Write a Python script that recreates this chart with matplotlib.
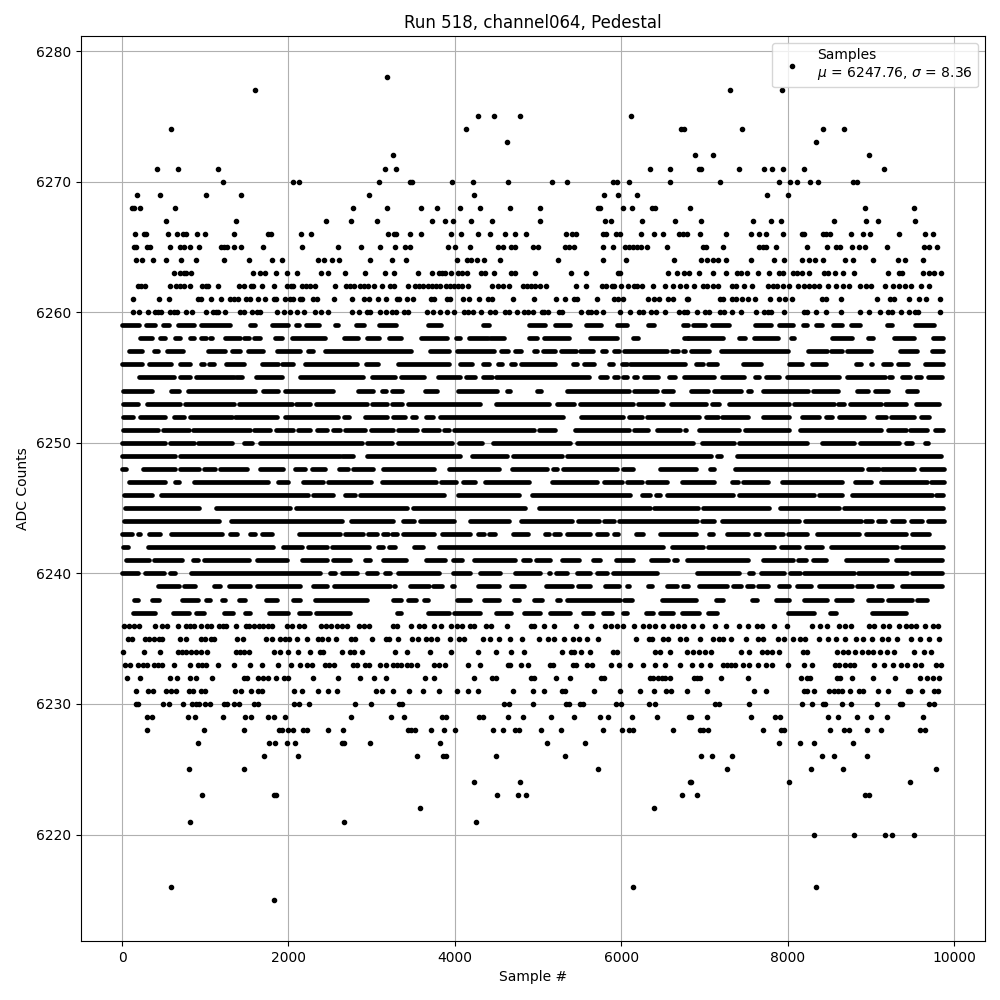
import matplotlib
matplotlib.use("Agg")
import matplotlib.pyplot as plt

# Single samples, one list per ADC level
s_6278 = [3188]
s_6277 = [1592, 7304, 7928]
s_6275 = [4276, 4468, 4780, 6124]
s_6274 = [584, 4132, 6724, 6760, 7448, 8432, 8684]
s_6273 = [4624, 8348]
s_6272 = [3260, 6884, 7100, 8984]
s_6271 = [416, 668, 1148, 3164, 3296, 6352, 6592, 6932, 6956, 7412, 7712, 7808, 7940, 8204, 9164]
s_6270 = [1208, 2060, 2132, 3092, 3460, 3484, 3964, 4216, 4636, 5164, 5344, 5896, 5944, 6100, 6592, 7184, 7892, 8024, 8108, 8276, 8372, 8792, 8840]
s_6269 = [176, 452, 1004, 1424, 2972, 4228, 5788, 5956, 6196, 7748, 8000]
s_6268 = [120, 140, 212, 632, 2780, 3188, 3592, 3784, 4060, 4300, 4660, 5020, 5716, 5740, 6016, 6136, 6376, 6412, 6828, 8936, 9524]
s_6267 = [524, 1364, 2456, 2756, 3068, 3724, 3880, 3976, 4192, 4444, 5020, 5800, 5872, 6256, 6652, 6956, 7580, 7796, 7916, 8564, 8948, 9092, 9536]
s_6266 = [152, 260, 284, 548, 656, 728, 764, 896, 992, 1340, 1760, 1796, 2156, 2276, 3200, 3272, 3296, 3460, 3592, 3952, 4072, 4276, 4420, 4600, 4720, 4852, 5332, 5404, 5452, 5776, 5812, 5932, 5980, 6244, 6400, 6508, 6700, 6748, 6796, 6944, 7256, 7556, 7652, 7736, 7940, 8168, 8192, 8432, 8468, 8516, 8768, 8912, 8996, 9344, 9656, 9752]
s_6265 = [140, 164, 296, 332, 572, 692, 740, 812, 920, 1184, 1220, 1256, 1340, 1424, 1700, 2168, 2600, 2876, 3104, 3284, 3400, 3460, 3916, 4000, 4180, 4516, 4576, 4672, 4720, 4936, 4996, 5320, 5368, 5428, 5776, 5896, 6052, 6100, 6148, 6196, 6244, 6316, 6556, 6980, 7016, 7220, 7652, 7700, 7736, 7856, 8240, 8480, 8588, 8636, 8780, 8864, 8936, 9200, 9644, 9704, 9800]
s_6264 = [164, 236, 368, 524, 704, 884, 1220, 1520, 1808, 1928, 2360, 2432, 2528, 2612, 2984, 3248, 3412, 4024, 4144, 4192, 4264, 4348, 4540, 5236, 5776, 6064, 6640, 6956, 7028, 7100, 7160, 7256, 7556, 7832, 7952, 8168, 8264, 8336, 8432, 8696, 8792, 9032, 9332, 9416, 9632]
s_6263 = [620, 692, 740, 764, 824, 1568, 1652, 1724, 1856, 1988, 2108, 2396, 2480, 2684, 2924, 3164, 3272, 3556, 3724, 3808, 3844, 3880, 3952, 4036, 4084, 4144, 4312, 4360, 4468, 4672, 4720, 4960, 5392, 5572, 5956, 5980, 6568, 6676, 6760, 6812, 6932, 7100, 7256, 7388, 7436, 7508, 7640, 7772, 7892, 7940, 8060, 8108, 8168, 8264, 8444, 8492, 8576, 8672, 8804, 9212, 9344, 9380, 9632, 9704, 9764, 9848]
s_6262 = [188, 224, 272, 572, 644, 692, 740, 812, 956, 1004, 1028, 1148, 1400, 1460, 1544, 1568, 1688, 1832, 1988, 2036, 2060, 2168, 2216, 2264, 2324, 2564, 2696, 2744, 2792, 2864, 2912, 2960, 3032, 3124, 3224, 3272, 3436, 3520, 3568, 3616, 3676, 3724, 3772, 3820, 3892, 3940, 3988, 4036, 4084, 4156, 4444, 4516, 4576, 4648, 4816, 4864, 4912, 4960, 5020, 5092, 5452, 5572, 5764, 5812, 5884, 5908, 5992, 6088, 6160, 6196, 6256, 6388, 6532, 6628, 6712, 6784, 6880, 6980, 7028, 7100, 7160, 7328, 7376, 7472, 7568, 7760, 7820, 7868, 7940, 8012, 8120, 8204, 8264, 8324, 8384, 8492, 8588, 8672, 8744, 8876, 8948, 9008, 9176, 9272, 9344, 9416, 9488, 9608, 9704]
s_6261 = [128, 440, 560, 908, 944, 1064, 1184, 1292, 1340, 1388, 1484, 1532, 1628, 1724, 1832, 1856, 1964, 2024, 2060, 2144, 2168, 2300, 2348, 2552, 2768, 2912, 2972, 3080, 3176, 3308, 3328, 3424, 3496, 3712, 3748, 3904, 3940, 4096, 4168, 4288, 4396, 4444, 4696, 4948, 5212, 5320, 5428, 5464, 5704, 5908, 5956, 6028, 6328, 6400, 6460, 6568, 6628, 6796, 6800, 7184, 7220, 7328, 7376, 7448, 7520, 7604, 7784, 7892, 7964, 8048, 8420, 8468, 8648, 9080, 9236, 9284, 9464, 9584, 9668, 9836]
s_6260 = [128, 200, 308, 392, 428, 464, 572, 620, 656, 764, 836, 1004, 1088, 1124, 1148, 1232, 1412, 1460, 1556, 1616, 1652, 1868, 1952, 2024, 2108, 2192, 2324, 2396, 2480, 2768, 2852, 2948, 2984, 3104, 3176, 3248, 3296, 3388, 3436, 3664, 3736, 3820, 3904, 3988, 4108, 4156, 4216, 4312, 4420, 4480, 4600, 4648, 4744, 4828, 4876, 4936, 5044, 5068, 5116, 5248, 5284, 5512, 5596, 5632, 5692, 5776, 5980, 6112, 6220, 6268, 6364, 6424, 6532, 6700, 6760, 6796, 6908, 7004, 7052, 7184, 7232, 7328, 7436, 7616, 7712, 7760, 7796, 7952, 8192, 8240, 8348, 8468, 8648, 8876, 8984, 9116, 9212, 9260, 9368, 9464, 9536, 9572, 9836]
s_6236 = [20, 80, 140, 200, 392, 476, 536, 668, 764, 812, 860, 944, 1016, 1064, 1160, 1208, 1244, 1364, 1484, 1520, 1580, 1640, 1700, 1760, 1808, 1988, 2048, 2132, 2192, 2396, 2456, 2516, 2588, 2648, 2708, 2852, 2912, 2972, 3260, 3308, 3472, 3568, 3628, 3748, 3832, 3952, 4024, 4084, 4180, 4228, 4372, 4432, 4624, 4912, 4948, 5068, 5188, 5452, 5632, 5800, 5872, 5944, 6028, 6160, 6268, 6340, 6412, 6508, 6616, 6688, 6760, 6860, 6968, 7124, 7256, 7412, 7520, 7628, 7688, 7832, 7988, 8300, 8396, 8480, 8624, 8696, 8768, 8984, 9044, 9152, 9224, 9344, 9428, 9488, 9548, 9656, 9752, 9812]
s_6235 = [68, 116, 272, 320, 380, 440, 476, 692, 764, 944, 992, 1064, 1100, 1376, 1448, 1736, 1808, 1904, 1964, 2012, 2108, 2228, 2360, 2408, 2480, 2576, 2756, 2804, 3008, 3176, 3212, 3320, 3484, 3556, 3652, 3712, 3784, 3940, 4048, 4108, 4336, 4420, 4528, 4660, 4804, 5008, 5116, 5188, 5308, 5416, 5488, 5584, 5716, 6184, 6340, 6376, 6508, 6568, 6712, 6784, 6944, 7100, 7172, 7220, 7316, 7496, 7640, 7700, 7880, 7952, 8060, 8144, 8216, 8384, 8492, 8588, 8696, 8828, 8912, 9020, 9140, 9212, 9320, 9488, 9596, 9704, 9824]
s_6234 = [8, 260, 452, 668, 716, 764, 824, 884, 944, 1016, 1364, 1412, 1460, 1520, 1832, 1904, 2000, 2120, 2264, 2384, 2420, 2648, 2744, 2792, 2888, 3284, 3424, 3700, 3952, 4276, 4492, 4672, 4828, 5284, 5392, 5428, 5512, 5620, 5896, 5944, 6412, 6472, 6592, 6796, 6860, 6932, 7004, 7076, 7436, 7532, 7688, 7748, 7808, 7892, 8180, 8240, 8600, 8672, 8732, 8816, 8900, 8972, 9032, 9116, 9200, 9284, 9524, 9644, 9728]
s_6233 = [32, 92, 188, 248, 296, 380, 428, 476, 620, 812, 908, 956, 1004, 1148, 1340, 1532, 1688, 1880, 2036, 2144, 2228, 2288, 2444, 2492, 2552, 2780, 2828, 2924, 2972, 3104, 3176, 3260, 3308, 3352, 3424, 3472, 3544, 3748, 3808, 3880, 4156, 4300, 4636, 4660, 4792, 4876, 5140, 5176, 5416, 5452, 5584, 5644, 5872, 5968, 6112, 6268, 6412, 6532, 6712, 6848, 6956, 7064, 7220, 7268, 7316, 7364, 7460, 7532, 7640, 7736, 7808, 8000, 8192, 8300, 8576, 8624, 8696, 8756, 8804, 9044, 9164, 9272, 9368, 9440, 9536, 9608, 9788, 9848]
s_6232 = [56, 212, 572, 656, 812, 884, 1076, 1460, 1496, 1628, 1700, 1760, 1856, 1952, 2000, 2300, 2600, 2864, 3032, 3176, 3640, 3748, 4228, 4444, 4492, 4912, 4948, 5212, 5380, 5752, 5788, 6352, 6388, 6448, 6496, 6532, 6592, 6872, 6908, 6944, 7196, 7520, 8156, 8240, 8276, 8600, 8636, 8780, 9032, 9296, 9596, 9680, 9752, 9824]
s_6231 = [164, 308, 368, 524, 584, 644, 800, 848, 944, 992, 1352, 1424, 1544, 1628, 1688, 2072, 2168, 2360, 2480, 2588, 3056, 3128, 3260, 3448, 3616, 3808, 4024, 4156, 4276, 4696, 4936, 5068, 5284, 5320, 5668, 5980, 6232, 6400, 6544, 6604, 6796, 7028, 7592, 7736, 8204, 8240, 8324, 8504, 8564, 8612, 8660, 8756, 8864, 8912, 9092, 9212, 9452, 9476, 9620, 9764, 9812]
s_6230 = [164, 188, 488, 560, 728, 836, 884, 920, 992, 1052, 1220, 1256, 1340, 1400, 1580, 1628, 2072, 2132, 2252, 2804, 2996, 3332, 3364, 4588, 4648, 4936, 5332, 5368, 5500, 5536, 5932, 5992, 6340, 6412, 7124, 7172, 7532, 8168, 8300, 8432, 8456, 8660, 8768, 9080, 9356, 9380, 9704, 9764]
s_6229 = [296, 356, 788, 872, 1208, 1472, 1544, 1760, 1832, 1964, 2756, 3236, 3388, 3844, 3892, 4288, 4336, 4636, 4816, 5152, 5428, 5740, 5836, 6136, 6436, 6820, 6836, 7028, 7556, 7844, 7904, 8492, 8612, 8840, 9008, 9200, 9632]
s_6228 = [296, 980, 1460, 1892, 1928, 2000, 2060, 2180, 2228, 2480, 2660, 3436, 3472, 3520, 3712, 3868, 4000, 4456, 4576, 4720, 4768, 5032, 5272, 5776, 6004, 6100, 6148, 6628, 6944, 6980, 7040, 7700, 7916, 7952, 8516, 8684, 8744, 8960, 9128, 9596, 9656]
s_6227 = [908, 1772, 1844, 1988, 2084, 2648, 2672, 2984, 3820, 5104, 5560, 7892, 8144, 8324, 8792]
s_6226 = [1712, 2120, 3544, 3856, 3892, 4492, 5320, 6956, 7088, 7328, 8420, 8564, 8960]
s_6225 = [800, 1460, 5716, 7268, 8288, 8672, 9788]
s_6224 = [4228, 4780, 6828, 6836, 8012, 9476]
s_6223 = [956, 1832, 1856, 4504, 4756, 4852, 6736, 6908, 8936, 8984]
s_6222 = [3580, 6400]
s_6221 = [812, 2672, 4252]
s_6220 = [8324, 8804, 9176, 9260, 9524]
s_6216 = [584, 6148, 8348]
s_6215 = [1832]

# Rows too dense to tell samples apart: (first, last) of each merged stretch
r_6259 = [(0, 200), (288, 392), (488, 560), (672, 864), (948, 1292), (1536, 1600), (1688, 1688), (1808, 2000), (2096, 2128), (2208, 2372), (2556, 2592), (2816, 2904), (3088, 3292), (3428, 3428), (3676, 3832), (3916, 3916), (4012, 4012), (4120, 4120), (4340, 4408), (4756, 4756), (4888, 5080), (5208, 5380), (5572, 5752), (5944, 6076), (6196, 6196), (6328, 6400), (6568, 6568), (6748, 6808), (6860, 7012), (7088, 7292), (7364, 7364), (7520, 7520), (7604, 7796), (7892, 8060), (8108, 8108), (8180, 8240), (8348, 8412), (8552, 8660), (8768, 8876), (8996, 8996), (9092, 9092), (9200, 9260), (9404, 9404), (9536, 9764)]
r_6258 = [(220, 360), (460, 520), (640, 692), (812, 860), (948, 1004), (1052, 1080), (1160, 1160), (1240, 1420), (1460, 1520), (1580, 1652), (1836, 1924), (2048, 2444), (2588, 2588), (2672, 2840), (2948, 3092), (3212, 3348), (3460, 3460), (3588, 3908), (4012, 4060), (4168, 4396), (4420, 4588), (4684, 4684), (4768, 4768), (4888, 4988), (5068, 5368), (5416, 5416), (5512, 5512), (5620, 5948), (6148, 6208), (6652, 6652), (6760, 6808), (6800, 7220), (7292, 7292), (7412, 7484), (7592, 7880), (8040, 8080), (8188, 8188), (8348, 8348), (8444, 8444), (8540, 8780), (8972, 9032), (9284, 9524), (9752, 9872)]
r_6257 = [(80, 240), (380, 428), (540, 728), (776, 776), (904, 904), (1028, 1240), (1316, 1420), (1508, 1700), (1760, 1760), (1868, 2140), (2240, 2300), (2440, 3476), (3604, 3604), (3700, 3928), (4024, 4468), (4556, 4636), (4720, 4796), (4948, 4988), (5056, 5208), (5272, 5452), (5500, 5656), (5764, 5812), (5908, 5968), (6040, 6548), (6608, 6688), (6748, 6768), (6836, 7060), (7112, 7112), (7196, 8000), (8072, 8072), (8156, 8156), (8252, 8480), (8528, 8660), (8720, 9000), (9140, 9140), (9356, 9560), (9740, 9872)]
r_6256 = [(0, 240), (320, 588), (700, 812), (884, 884), (944, 980), (1040, 1100), (1244, 1460), (1556, 1556), (1688, 1880), (1928, 2060), (2204, 2820), (2932, 3080), (3132, 3132), (3240, 3240), (3320, 3928), (4060, 4208), (4336, 4408), (4432, 4432), (4516, 4568), (4676, 4728), (4792, 5208), (5272, 5272), (5416, 5468), (5548, 5668), (5848, 5896), (6012, 6076), (6108, 6768), (6896, 6980), (7048, 7148), (7232, 7232), (7352, 7352), (7460, 7680), (7892, 7892), (8012, 8168), (8216, 8216), (8300, 8460), (8516, 8516), (8828, 8888), (9008, 9016), (9152, 9248), (9332, 9452), (9656, 9872)]
r_6255 = [(32, 32), (200, 620), (692, 812), (884, 1340), (1372, 1440), (1604, 1920), (2140, 2900), (3008, 3280), (3348, 3628), (3796, 4060), (4132, 4248), (4336, 4448), (4492, 5608), (5740, 5828), (5908, 5956), (6016, 6076), (6160, 6196), (6280, 6448), (6572, 6652), (6760, 7120), (7208, 7480), (7604, 7660), (7736, 7900), (7988, 8620), (8720, 9172), (9224, 9260), (9380, 9468), (9548, 9608), (9692, 9860)]
r_6254 = [(8, 360), (500, 500), (588, 680), (788, 1600), (1700, 1880), (1964, 2540), (2648, 2648), (2744, 2744), (2840, 3020), (3120, 3172), (3248, 3368), (3532, 3532), (3640, 3788), (3856, 3856), (4036, 4508), (4624, 4660), (4768, 4768), (4888, 4888), (4988, 5036), (5176, 5176), (5260, 5260), (5344, 6100), (6160, 6428), (6508, 6628), (6736, 6736), (6836, 7040), (7112, 7436), (7520, 7556), (7628, 7628), (7700, 8252), (8312, 8612), (8840, 8972), (9056, 9212), (9356, 9356), (9440, 9560), (9620, 9620), (9716, 9716), (9800, 9800)]
r_6253 = [(8, 188), (296, 692), (752, 1340), (1400, 2040), (2096, 2260), (2336, 2940), (3008, 3180), (3248, 3368), (3436, 4308), (4420, 4420), (4492, 5128), (5228, 5428), (5500, 6148), (6208, 6508), (6604, 7020), (7088, 7180), (7232, 7232), (7292, 8020), (8072, 8560), (8612, 8680), (8756, 9120), (9176, 9428), (9548, 9820)]
r_6252 = [(8, 128), (212, 520), (620, 740), (812, 1320), (1360, 1860), (1904, 1904), (1964, 2600), (2672, 2732), (2852, 2852), (2924, 3180), (3260, 3396), (3484, 3532), (3652, 3740), (3820, 5300), (5368, 5368), (5516, 6020), (6100, 6248), (6316, 6932), (7016, 7160), (7208, 7520), (7628, 7628), (7700, 8020), (8084, 8084), (8168, 8380), (8468, 8540), (8624, 8920), (9008, 9008), (9080, 9180), (9248, 9524), (9608, 9700)]
r_6251 = [(8, 428), (488, 800), (848, 1540), (1580, 1780), (1848, 2060), (2120, 2260), (2340, 2460), (2540, 2620), (2680, 2920), (2988, 3260), (3312, 3548), (3616, 3808), (3868, 3928), (3988, 4948), (5008, 5208), (5308, 5308), (5440, 6100), (6160, 6328), (6428, 6708), (6764, 6784), (6872, 6872), (6932, 7412), (7484, 8012), (8060, 8060), (8144, 9128), (9212, 9420), (9476, 9680), (9776, 9872)]
r_6250 = [(0, 520), (572, 860), (908, 1320), (1460, 1560), (1660, 2880), (2940, 3240), (3316, 3968), (4048, 4328), (4456, 5388), (5464, 6860), (6968, 7360), (7412, 8240), (8336, 8336), (8420, 8800), (8876, 9340), (9428, 9500), (9548, 9548), (9652, 9692), (9764, 9764), (9848, 9848)]
r_6249 = [(0, 640), (700, 2620), (2648, 2780), (2940, 4068), (4132, 4132), (4204, 4628), (4696, 5288), (5344, 7080), (7148, 7200), (7304, 7304), (7388, 9840)]
r_6248 = [(0, 52), (248, 640), (692, 920), (980, 1120), (1172, 1500), (1580, 1580), (1652, 1940), (2012, 2012), (2084, 2200), (2288, 2440), (2540, 2540), (2612, 2720), (2780, 3020), (3056, 3056), (3140, 3748), (3856, 3856), (3928, 4528), (4600, 4600), (4684, 5108), (5176, 5228), (5296, 5948), (6016, 6148), (6220, 6220), (6292, 6292), (6388, 6388), (6472, 6900), (7068, 7112), (7220, 7220), (7364, 8900), (8972, 9100), (9140, 9520), (9608, 9880)]
r_6247 = [(80, 520), (640, 680), (740, 740), (860, 1760), (1784, 1784), (1880, 2000), (2084, 2084), (2180, 2420), (2480, 2988), (3120, 3768), (3828, 4016), (4096, 4248), (4360, 4888), (4996, 4996), (5080, 5080), (5164, 5708), (5788, 6008), (6076, 6248), (6316, 6548), (6628, 6628), (6728, 7120), (7208, 7208), (7328, 7400), (7460, 7760), (7828, 7828), (7928, 8652), (8732, 8732), (8816, 9000), (9128, 9680), (9728, 9880)]
r_6246 = [(20, 360), (464, 2240), (2300, 2540), (2680, 2800), (2864, 3868), (3964, 3964), (4036, 4768), (4840, 4840), (4924, 6108), (6160, 6160), (6256, 6348), (6424, 6468), (6556, 7340), (7412, 8320), (8384, 8660), (8780, 9740), (9788, 9872)]
r_6245 = [(32, 920), (1040, 1040), (1132, 2020), (2092, 3428), (3496, 4848), (4888, 4888), (5016, 6348), (6400, 6920), (6980, 7780), (7904, 8620), (8680, 9872)]
r_6244 = [(20, 1160), (1208, 1208), (1304, 2640), (2756, 3260), (3376, 3508), (3580, 3996), (4072, 4072), (4180, 4648), (4792, 5408), (5476, 5728), (5788, 5908), (5968, 6908), (6968, 7112), (7208, 8140), (8216, 8880), (8936, 9020), (9092, 9172), (9260, 9400), (9488, 9620), (9692, 9880)]
r_6243 = [(0, 120), (188, 220), (320, 460), (588, 1200), (1300, 1380), (1532, 1600), (1676, 1800), (1892, 1892), (2000, 2000), (2132, 2620), (2680, 2900), (2960, 3068), (3140, 3200), (3248, 3300), (3376, 3748), (3844, 4180), (4276, 4348), (4408, 4480), (4552, 4552), (4696, 4876), (4936, 4936), (5080, 5128), (5188, 5268), (5344, 5628), (5704, 5828), (5908, 5956), (6064, 6064), (6184, 6268), (6328, 6328), (6472, 6900), (6956, 6956), (7052, 7100), (7184, 7184), (7268, 7520), (7604, 7652), (7736, 7940), (8000, 8240), (8288, 8288), (8360, 8860), (8948, 9420), (9500, 9700)]
r_6242 = [(8, 68), (128, 128), (224, 224), (308, 1820), (1940, 2160), (2240, 2460), (2528, 2972), (3080, 3140), (3212, 3280), (3352, 3352), (3424, 3424), (3508, 3616), (3712, 3712), (3808, 6508), (6616, 6980), (7040, 7840), (7916, 8132), (8228, 8420), (8528, 9320), (9380, 9872)]
r_6241 = [(44, 320), (380, 716), (848, 908), (980, 1520), (1620, 1980), (2168, 2460), (2540, 2740), (2924, 2980), (3068, 3068), (3140, 3408), (3496, 3496), (3652, 3888), (3976, 4088), (4228, 4728), (4816, 4908), (4972, 5148), (5284, 5488), (5656, 5740), (5860, 5860), (5932, 6148), (6256, 6256), (6364, 6568), (6640, 6676), (6788, 7520), (7580, 7580), (7700, 8060), (8120, 8220), (8312, 8460), (8504, 8504), (8708, 9200), (9308, 9860)]
r_6240 = [(0, 188), (272, 500), (572, 640), (740, 740), (824, 2380), (2500, 2560), (2648, 2820), (2876, 2876), (2948, 3060), (3164, 3220), (3320, 3808), (3892, 3892), (3976, 4188), (4308, 4548), (4636, 4636), (4720, 5028), (5128, 5148), (5212, 5348), (5464, 5628), (5704, 5828), (5896, 6428), (6508, 6508), (6628, 6628), (6752, 6760), (6908, 7420), (7532, 7580), (7676, 7960), (8024, 8148), (8204, 8800), (8852, 9440), (9500, 9860)]
r_6239 = [(116, 116), (272, 272), (428, 680), (740, 880), (968, 968), (1100, 1172), (1280, 1540), (1620, 2140), (2300, 2460), (2552, 3220), (3272, 3280), (3460, 3688), (3736, 3848), (3964, 3988), (4060, 4060), (4156, 4156), (4276, 4528), (4672, 4828), (4876, 4876), (4960, 4960), (5092, 5408), (5476, 5628), (5692, 5692), (5800, 5968), (6076, 6100), (6328, 6368), (6460, 6460), (6556, 6668), (6748, 6808), (6940, 7268), (7340, 7436), (7508, 7580), (7640, 7760), (7892, 8012), (8108, 8280), (8384, 8780), (8840, 9020), (9092, 9260), (9380, 9860)]
r_6238 = [(20, 20), (140, 188), (356, 440), (596, 596), (716, 908), (1004, 1060), (1196, 1240), (1328, 1328), (1400, 1480), (1556, 1556), (1736, 1860), (2060, 2140), (2324, 2940), (3020, 3020), (3152, 3152), (3260, 3348), (3436, 3528), (3628, 3676), (3916, 3916), (4024, 4180), (4264, 4264), (4348, 4528), (4708, 4768), (4852, 4852), (4948, 5048), (5164, 5164), (5224, 5268), (5344, 5988), (6040, 6128), (6340, 6340), (6496, 6900), (7004, 7004), (7136, 7220), (7304, 7304), (7400, 7400), (7484, 7484), (7568, 7628), (7856, 8020), (8204, 8480), (8588, 8780), (8972, 9140), (9212, 9500), (9560, 9680), (9764, 9764), (9848, 9848)]
r_6237 = [(8, 8), (128, 400), (524, 524), (608, 800), (884, 980), (1100, 1100), (1220, 1328), (1472, 1540), (1640, 1640), (1772, 2000), (2128, 2260), (2336, 2740), (2840, 2840), (3008, 3008), (3300, 3348), (3556, 3556), (3676, 3928), (3988, 4308), (4492, 4676), (4744, 4744), (4828, 5028), (5140, 5388), (5452, 5452), (5540, 5656), (5776, 5888), (6028, 6076), (6304, 6388), (6472, 6628), (6736, 6940), (7048, 7148), (7268, 7268), (7364, 7364), (7604, 7604), (7748, 7748), (8000, 8320), (8408, 8408), (8516, 8588), (8716, 8716), (8852, 8852), (9016, 9428), (9548, 9548), (9680, 9680), (9848, 9848)]

single_rows = {6278: s_6278, 6277: s_6277, 6275: s_6275, 6274: s_6274, 6273: s_6273, 6272: s_6272,
               6271: s_6271, 6270: s_6270, 6269: s_6269, 6268: s_6268, 6267: s_6267, 6266: s_6266,
               6265: s_6265, 6264: s_6264, 6263: s_6263, 6262: s_6262, 6261: s_6261, 6260: s_6260,
               6236: s_6236, 6235: s_6235, 6234: s_6234, 6233: s_6233, 6232: s_6232, 6231: s_6231,
               6230: s_6230, 6229: s_6229, 6228: s_6228, 6227: s_6227, 6226: s_6226, 6225: s_6225,
               6224: s_6224, 6223: s_6223, 6222: s_6222, 6221: s_6221, 6220: s_6220, 6216: s_6216,
               6215: s_6215}
dense_rows = {6259: r_6259, 6258: r_6258, 6257: r_6257, 6256: r_6256, 6255: r_6255, 6254: r_6254,
              6253: r_6253, 6252: r_6252, 6251: r_6251, 6250: r_6250, 6249: r_6249, 6248: r_6248,
              6247: r_6247, 6246: r_6246, 6245: r_6245, 6244: r_6244, 6243: r_6243, 6242: r_6242,
              6241: r_6241, 6240: r_6240, 6239: r_6239, 6238: r_6238, 6237: r_6237}

fig, ax = plt.subplots(figsize=(10, 10))

# Merged stretches: a round capped line a little under one '.' marker wide
for level, runs in dense_rows.items():
    for first, last in runs:
        ax.plot([first, last], [level, level], color='k', lw=3.4, solid_capstyle='round')

# Single samples
xs = []
ys = []
for level, samples in single_rows.items():
    xs += samples
    ys += [level] * len(samples)
ax.plot(xs, ys, 'k.', label="Samples\n$\\mu$ = 6247.76, $\\sigma$ = 8.36")

ax.set_title("Run 518, channel064, Pedestal")
ax.set_xlabel("Sample #")
ax.set_ylabel("ADC Counts")
ax.grid(True)
ax.legend(loc='upper right')

fig.subplots_adjust(left=0.081, right=0.985, top=0.964, bottom=0.059)
plt.savefig("out.png", dpi=100)
